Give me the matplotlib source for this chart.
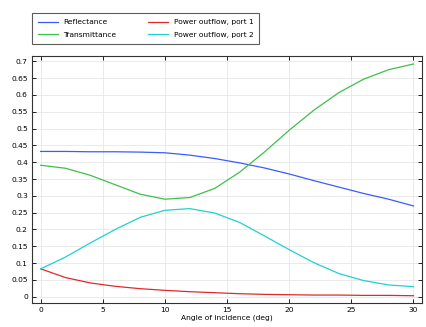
"""Reflectance, transmittance and port outflows versus angle of incidence."""

import matplotlib

matplotlib.use("Agg")
from matplotlib import pyplot as plt

# ---------------------------------------------------------------------------
# Data
# ---------------------------------------------------------------------------

angle = [0, 2, 4, 6, 8, 10, 12, 14, 16, 18, 20, 22, 24, 26, 28, 30]

reflectance = [0.432, 0.432, 0.431, 0.431, 0.430, 0.428, 0.421, 0.411, 0.398,
               0.383, 0.365, 0.345, 0.326, 0.307, 0.290, 0.270]
transmittance = [0.391, 0.382, 0.361, 0.333, 0.305, 0.290, 0.295, 0.322, 0.370,
                 0.430, 0.495, 0.555, 0.607, 0.647, 0.675, 0.692]
outflow_port1 = [0.083, 0.057, 0.041, 0.031, 0.024, 0.019, 0.015, 0.012, 0.009,
                 0.007, 0.006, 0.005, 0.005, 0.004, 0.004, 0.003]
outflow_port2 = [0.083, 0.118, 0.160, 0.200, 0.236, 0.257, 0.262, 0.249, 0.221,
                 0.181, 0.140, 0.101, 0.069, 0.048, 0.035, 0.030]

series = [
    ("Reflectance", reflectance, "#3a5cff"),
    ("Transmittance", transmittance, "#3fbf4a"),
    ("Power outflow, port 1", outflow_port1, "#e02a2a"),
    ("Power outflow, port 2", outflow_port2, "#22d0d0"),
]

yticks = [round(0.05 * i, 2) for i in range(15)]
xticks = [0, 5, 10, 15, 20, 25, 30]

# ---------------------------------------------------------------------------
# Plot
# ---------------------------------------------------------------------------

FONT_SIZE = 5.4

plt.rcParams["font.family"] = ["DejaVu Sans"]
plt.rcParams["font.size"] = FONT_SIZE

fig = plt.figure(figsize=(4.26, 3.27), dpi=100)
ax = fig.add_axes([0.075, 0.073, 0.916, 0.756])

lines = []
for label, values, color in series:
    (line,) = ax.plot(angle, values, color=color, lw=0.9, label=label)
    lines.append(line)

ax.set_xlim(-0.7, 30.7)
ax.set_ylim(-0.019, 0.716)
ax.set_xticks(xticks)
ax.set_yticks(yticks)
ax.set_yticklabels([f"{t:g}" for t in yticks])
ax.tick_params(direction="in", top=True, right=True, length=3, width=0.6,
               labelsize=FONT_SIZE, pad=3)
ax.grid(color="#e6e6e6", lw=0.6)
ax.set_axisbelow(True)
for spine in ax.spines.values():
    spine.set_linewidth(0.8)
    spine.set_color("#333333")

ax.set_xlabel("Angle of incidence (deg)", fontsize=FONT_SIZE, labelpad=1)

# Legend above the axes, two columns filled top to bottom
leg = fig.legend(
    lines,
    [s[0] for s in series],
    loc="upper left",
    bbox_to_anchor=(0.075, 0.96),
    borderaxespad=0,
    ncol=2,
    fontsize=FONT_SIZE,
    frameon=True,
    fancybox=False,
    handlelength=2.7,
    handletextpad=0.7,
    columnspacing=4.2,
    borderpad=0.8,
    labelspacing=0.8,
)
leg.get_frame().set_edgecolor("#333333")
leg.get_frame().set_linewidth(0.8)

plt.savefig("out.png", dpi=100)
plt.close(fig)
